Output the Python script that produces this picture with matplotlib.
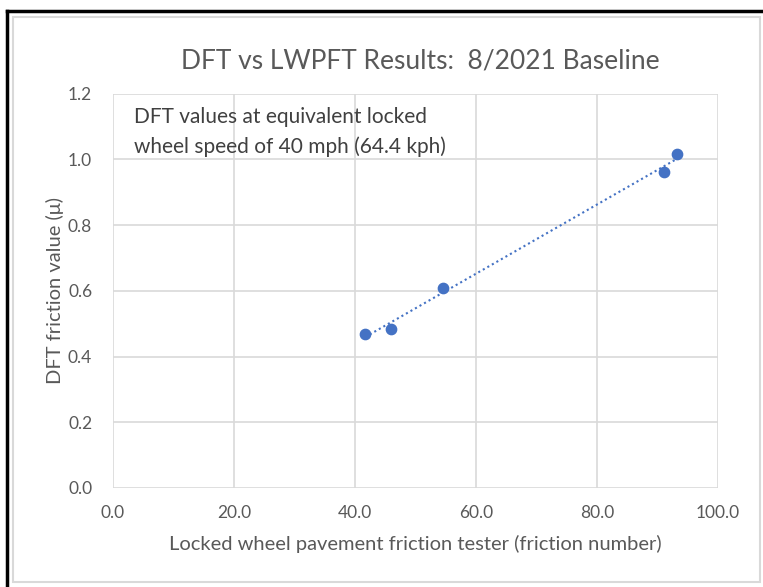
import numpy as np
import matplotlib.pyplot as plt
from matplotlib.lines import Line2D
from matplotlib.patches import Rectangle

plt.rcParams['font.family'] = ['Lato', 'DejaVu Sans']

# Datos
lwpft = [41.7, 46.0, 54.6, 91.0, 93.3]
dft = [0.469, 0.483, 0.610, 0.961, 1.017]
xticks = [0, 20, 40, 60, 80, 100]
yticks = [0.0, 0.2, 0.4, 0.6, 0.8, 1.0, 1.2]

texto = '#595959'
azul = '#4472C4'
gris = '#d9d9d9'

W, H = 763, 587
fig = plt.figure(figsize=(W / 100, H / 100), dpi=100)
ax = fig.add_axes([113 / W, 1 - 488 / H, (718 - 113) / W, (488 - 93.6) / H])

# marco exterior
fig.add_artist(Rectangle((13 / W, 1 - 582 / H), (760 - 13) / W, (582 - 17) / H,
                         transform=fig.transFigure, fill=False, edgecolor=gris, lw=1.5))
fig.add_artist(Line2D([7 / W, 7 / W], [0, 1 - 11 / H], transform=fig.transFigure, color='black', lw=2.5))
fig.add_artist(Line2D([7 / W, 1], [1 - 11 / H, 1 - 11 / H], transform=fig.transFigure, color='black', lw=2.5))

ax.scatter(lwpft, dft, s=55, color=azul, zorder=3)

# linea de tendencia
m, b = np.polyfit(lwpft, dft, 1)
xs = np.array([min(lwpft), max(lwpft)])
ax.plot(xs, m * xs + b, linestyle=(0, (1, 1.5)), color=azul, lw=1.5, zorder=2)

ax.set_xlim(0, 100)
ax.set_ylim(0, 1.2)
ax.set_xticks(xticks)
ax.set_yticks(yticks)
ax.set_xticklabels([f'{v:.1f}' for v in xticks])
ax.set_yticklabels([f'{v:.1f}' for v in yticks])
ax.tick_params(length=0, labelsize=12.5, colors=texto)
ax.tick_params(axis='y', pad=15)
ax.tick_params(axis='x', pad=12)
for s in ax.spines.values():
    s.set_visible(False)
ax.grid(True, color=gris, lw=1.2)
ax.set_axisbelow(True)

ax.set_xlabel('Locked wheel pavement friction tester (friction number)', fontsize=14.5,
              color=texto, labelpad=10)
ax.set_ylabel('DFT friction value (μ)', fontsize=14.5, color=texto, labelpad=3)
fig.text(420 / W, 1 - 61 / H, 'DFT vs LWPFT Results:  8/2021 Baseline', ha='center', va='center',
         fontsize=19, color=texto)
ax.text(3.5, 1.158, 'DFT values at equivalent locked\nwheel speed of 40 mph (64.4 kph)',
        ha='left', va='top', fontsize=15, color='#404040', linespacing=1.55)

fig.savefig('out.png', dpi=100)
